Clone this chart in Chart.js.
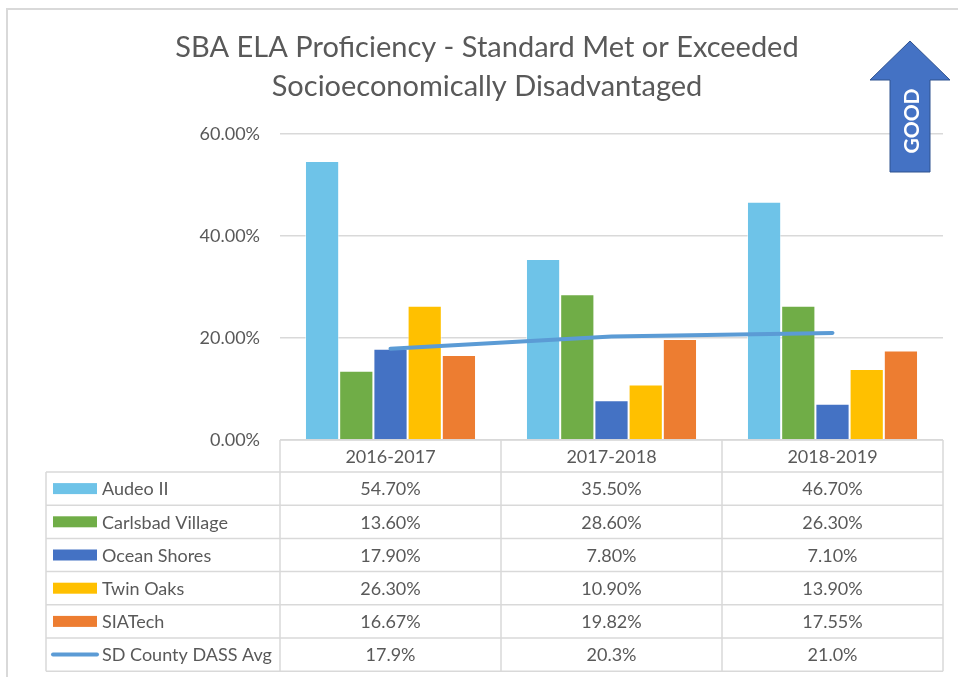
<!DOCTYPE html>
<html>
<head>
<meta charset="utf-8">
<script src="https://cdn.jsdelivr.net/npm/chart.js@4.4.0/dist/chart.umd.min.js"></script>
<style>
  body { margin: 0; background: #fff; }
  #wrap { position: relative; width: 958px; height: 677px; }
</style>
</head>
<body>
<div id="wrap"><canvas id="chart" width="958" height="677"></canvas></div>
<script>
const years = ['2016-2017', '2017-2018', '2018-2019']
const audeo = [54.70, 35.50, 46.70]
const carlsbad = [13.60, 28.60, 26.30]
const ocean_shores = [17.90, 7.80, 7.10]
const twin_oaks = [26.30, 10.90, 13.90]
const siatech = [16.67, 19.82, 17.55]
const county_avg = [17.9, 20.3, 21.0]
const title_lines = ['SBA ELA Proficiency - Standard Met or Exceeded', 'Socioeconomically Disadvantaged']

const font_family = 'Lato, "Open Sans", sans-serif'
const text_color = '#595959'
const rule_color = '#d9d9d9'
const body_size = 18

function bar_set(label, data, color) {
    return {
        type: 'bar',
        label: label,
        data: data,
        backgroundColor: color,
        borderColor: 'rgba(255,255,255,0.5)',
        borderWidth: 1,
        order: 1,
        decimals: 2,
    }
}

// draws title, data table, the GOOD arrow and the frame
const extras = {
    id: 'extras',
    beforeDraw(chart) {
        const c = chart.ctx
        c.save()
        c.fillStyle = '#fff'
        c.fillRect(0, 0, chart.width, chart.height)
        c.restore()
    },
    afterDraw(chart) {
        const c = chart.ctx
        const area = chart.chartArea
        const xs = chart.scales.x
        c.save()

        // frame
        c.strokeStyle = rule_color
        c.lineWidth = 2
        c.strokeRect(7, 9, 1000, 1000)

        // title
        c.fillStyle = text_color
        c.font = '29px ' + font_family
        c.textAlign = 'center'
        c.textBaseline = 'middle'
        c.fillText(title_lines[0], 487, 48)
        c.fillText(title_lines[1], 487, 87)

        // data table
        const half = (xs.getPixelForValue(1) - xs.getPixelForValue(0)) / 2
        const top = area.bottom
        const head_h = 32
        const row_h = 33.2
        const key_left = 46
        const sets = chart.data.datasets
        const bottom = top + head_h + row_h * sets.length

        c.strokeStyle = rule_color
        c.lineWidth = 1.5
        c.beginPath()
        c.moveTo(area.left, top); c.lineTo(area.right, top)
        for (let r = 0; r <= sets.length; r++) {
            const y = top + head_h + r * row_h
            c.moveTo(key_left, y); c.lineTo(area.right, y)
        }
        c.moveTo(key_left, top + head_h); c.lineTo(key_left, bottom)
        for (let i = 0; i < years.length; i++) {
            const x = xs.getPixelForValue(i) - half
            c.moveTo(x, top); c.lineTo(x, bottom)
        }
        c.moveTo(area.right, top); c.lineTo(area.right, bottom)
        c.stroke()

        c.font = body_size + 'px ' + font_family
        c.fillStyle = text_color
        c.textAlign = 'center'
        years.forEach((y, i) => c.fillText(y, xs.getPixelForValue(i), top + head_h / 2 + 1))

        sets.forEach((ds, r) => {
            const cy = top + head_h + r * row_h + row_h / 2
            if (ds.type === 'line') {
                c.strokeStyle = ds.borderColor
                c.lineWidth = 4
                c.lineCap = 'round'
                c.beginPath(); c.moveTo(53, cy); c.lineTo(97, cy); c.stroke()
            } else {
                c.fillStyle = ds.backgroundColor
                c.fillRect(53, cy - 5.5, 44, 11)
            }
            c.fillStyle = text_color
            c.textAlign = 'left'
            c.fillText(ds.label, 102, cy + 1)
            c.textAlign = 'center'
            ds.data.forEach((v, i) => {
                c.fillText(v.toFixed(ds.decimals) + '%', xs.getPixelForValue(i), cy + 1)
            })
        })

        // GOOD arrow
        c.beginPath()
        c.moveTo(910, 41)
        c.lineTo(950, 80)
        c.lineTo(930, 80)
        c.lineTo(930, 172)
        c.lineTo(890, 172)
        c.lineTo(890, 80)
        c.lineTo(870, 80)
        c.closePath()
        c.fillStyle = '#4472c4'
        c.fill()
        c.strokeStyle = '#2f528f'
        c.lineWidth = 1
        c.lineCap = 'butt'
        c.stroke()
        c.translate(911, 121)
        c.rotate(-Math.PI / 2)
        c.fillStyle = '#fff'
        c.font = 'bold 21px ' + font_family
        c.textAlign = 'center'
        c.textBaseline = 'middle'
        c.fillText('GOOD', 0, 1)

        c.restore()
    }
}

function draw() {
    new Chart(document.querySelector('#chart'), {
        type: 'bar',
        data: {
            labels: years,
            datasets: [
                bar_set('Audeo II', audeo, '#6ec3e8'),
                bar_set('Carlsbad Village', carlsbad, '#70ad47'),
                bar_set('Ocean Shores', ocean_shores, '#4472c4'),
                bar_set('Twin Oaks', twin_oaks, '#ffc000'),
                bar_set('SIATech', siatech, '#ed7d31'),
                {
                    type: 'line',
                    label: 'SD County DASS Avg',
                    data: county_avg,
                    borderColor: '#5b9bd5',
                    borderWidth: 4,
                    borderCapStyle: 'round',
                    pointRadius: 0,
                    tension: 0,
                    order: 0,
                    decimals: 1,
                },
            ],
        },
        options: {
            responsive: false,
            animation: false,
            devicePixelRatio: 1,
            categoryPercentage: 0.774,
            barPercentage: 1,
            layout: {
                padding: { top: 134, right: 15, bottom: 237, left: 0 },
            },
            plugins: {
                legend: { display: false },
                title: { display: false },
                tooltip: { enabled: false },
            },
            scales: {
                x: {
                    display: false,
                    offset: true,
                },
                y: {
                    min: 0,
                    max: 60,
                    afterFit: (scale) => { scale.width = 280 },
                    border: { display: false },
                    grid: {
                        color: rule_color,
                        lineWidth: 1.5,
                        drawTicks: false,
                    },
                    ticks: {
                        stepSize: 20,
                        padding: 20,
                        color: text_color,
                        font: { family: font_family, size: body_size },
                        callback: (v) => v.toFixed(2) + '%',
                    },
                },
            },
        },
        plugins: [extras],
    })
}

document.fonts.load('16px Lato').then(draw, draw)
</script>
</body>
</html>
